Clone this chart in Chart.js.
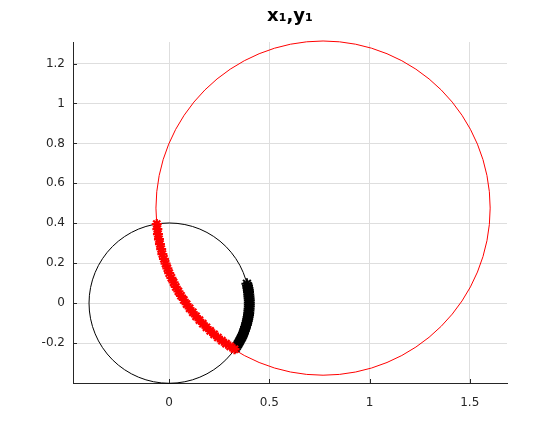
<!DOCTYPE html>
<html lang="en">
<head>
<meta charset="UTF-8">
<title>x1,y1</title>
<script src="https://cdn.jsdelivr.net/npm/chart.js"></script>
<style>
  body { margin: 0; background: #fff; }
  canvas { display: block; }
</style>
</head>
<body>
<canvas id="circles" width="560" height="441"></canvas>
<script>
// circles: centre and radius, in data units
const circleX = [0, 0.768];
const circleY = [0, 0.476];
const circleR = [0.4, 0.834];
const circleColors = ['#000000', '#ff0000'];

// red * markers along the big circle
const redX = [-0.062, -0.059, -0.056, -0.051, -0.046, -0.040, -0.034, -0.026, -0.018, -0.009,
              0.000, 0.011, 0.022, 0.033, 0.046, 0.059, 0.073, 0.087, 0.102, 0.118,
              0.134, 0.151, 0.168, 0.186, 0.205, 0.224, 0.243, 0.263, 0.284, 0.305, 0.326];
const redY = [0.396, 0.371, 0.346, 0.320, 0.296, 0.271, 0.246, 0.222, 0.198, 0.174,
              0.150, 0.127, 0.104, 0.081, 0.059, 0.037, 0.016, -0.005, -0.026, -0.046,
              -0.066, -0.085, -0.103, -0.121, -0.139, -0.156, -0.172, -0.188, -0.203, -0.217, -0.231];

// black markers along the small circle
const blackX = [0.388, 0.391, 0.393, 0.395, 0.396, 0.397, 0.398, 0.399, 0.400, 0.400, 0.400,
                0.400, 0.399, 0.398, 0.397, 0.396, 0.394, 0.392, 0.390, 0.387, 0.385,
                0.381, 0.378, 0.375, 0.371, 0.367, 0.363, 0.358, 0.353, 0.348, 0.343, 0.337, 0.332];
const blackY = [0.097, 0.087, 0.076, 0.066, 0.056, 0.045, 0.035, 0.024, 0.014, 0.003, -0.007,
                -0.017, -0.028, -0.038, -0.049, -0.059, -0.069, -0.080, -0.090, -0.100, -0.110,
                -0.120, -0.130, -0.140, -0.150, -0.160, -0.169, -0.178, -0.188, -0.197, -0.206, -0.215, -0.224];

const xTicks = [0, 0.5, 1, 1.5];
const yTicks = [-0.2, 0, 0.2, 0.4, 0.6, 0.8, 1, 1.2];

const toPoints = (xs, ys) => xs.map((x, i) => ({ x: x, y: ys[i] }));

// radius in pixels of a circle given in data units
function pixelRadius(chart, r) {
    const s = chart.scales.x;
    const v = Math.abs(s.getPixelForValue(r) - s.getPixelForValue(0));
    return isFinite(v) ? v : 0;
}

const circleSets = circleX.map((cx, i) => ({
    data: [{ x: cx, y: circleY[i] }],
    pointStyle: 'circle',
    pointRadius: (ctx) => pixelRadius(ctx.chart, circleR[i]),
    pointHoverRadius: (ctx) => pixelRadius(ctx.chart, circleR[i]),
    pointBorderColor: circleColors[i],
    pointBackgroundColor: 'rgba(0,0,0,0)',
    pointBorderWidth: 1,
    clip: false,
    order: 3 - i
}));

// short inward tick marks on the left and bottom axes
const innerTicks = {
    id: 'innerTicks',
    afterDatasetsDraw(chart) {
        const { ctx, chartArea: a, scales: { x, y } } = chart;
        ctx.save();
        ctx.strokeStyle = '#262626';
        ctx.lineWidth = 1;
        ctx.beginPath();
        xTicks.forEach(v => {
            const px = Math.round(x.getPixelForValue(v)) + 0.5;
            ctx.moveTo(px, a.bottom);
            ctx.lineTo(px, a.bottom - 4);
        });
        yTicks.forEach(v => {
            const py = Math.round(y.getPixelForValue(v)) + 0.5;
            ctx.moveTo(a.left, py);
            ctx.lineTo(a.left + 4, py);
        });
        ctx.stroke();
        ctx.restore();
    }
};

new Chart(document.getElementById('circles'), {
    type: 'scatter',
    data: {
        datasets: [
            {
                data: toPoints(redX, redY),
                pointStyle: 'star',
                pointRadius: 5,
                pointBorderColor: '#ff0000',
                pointBorderWidth: 2.3,
                order: 0
            },
            {
                data: toPoints(blackX, blackY),
                pointStyle: 'star',
                pointRadius: 5.5,
                pointBorderColor: '#000000',
                pointBorderWidth: 2,
                order: 1
            },
            ...circleSets
        ]
    },
    plugins: [innerTicks],
    options: {
        responsive: false,
        animation: false,
        layout: { autoPadding: false, padding: { left: 0, right: 53, top: 0, bottom: 0 } },
        plugins: {
            legend: { display: false },
            tooltip: { enabled: false },
            title: {
                display: true,
                fullSize: false,
                text: 'x\u2081,y\u2081',
                color: '#000',
                font: { family: 'DejaVu Sans', size: 18, weight: 'bold' },
                padding: { top: 5.7, bottom: 14.7 }
            }
        },
        scales: {
            x: {
                type: 'linear',
                min: -0.48,
                max: 1.686,
                afterBuildTicks: (s) => { s.ticks = xTicks.map(v => ({ value: v })); },
                afterFit: (s) => { s.height = 58; },
                grid: { color: '#dedede', drawTicks: false },
                border: { color: '#262626', width: 1 },
                ticks: {
                    padding: 13,
                    color: '#262626',
                    font: { family: 'DejaVu Sans', size: 12 },
                    callback: (v) => String(v)
                }
            },
            y: {
                type: 'linear',
                min: -0.4,
                max: 1.308,
                afterBuildTicks: (s) => { s.ticks = yTicks.map(v => ({ value: v })); },
                afterFit: (s) => { s.width = 73; },
                grid: { color: '#dedede', drawTicks: false },
                border: { color: '#262626', width: 1 },
                ticks: {
                    padding: 8,
                    color: '#262626',
                    font: { family: 'DejaVu Sans', size: 12 },
                    callback: (v) => String(v)
                }
            }
        }
    }
});
</script>
</body>
</html>
